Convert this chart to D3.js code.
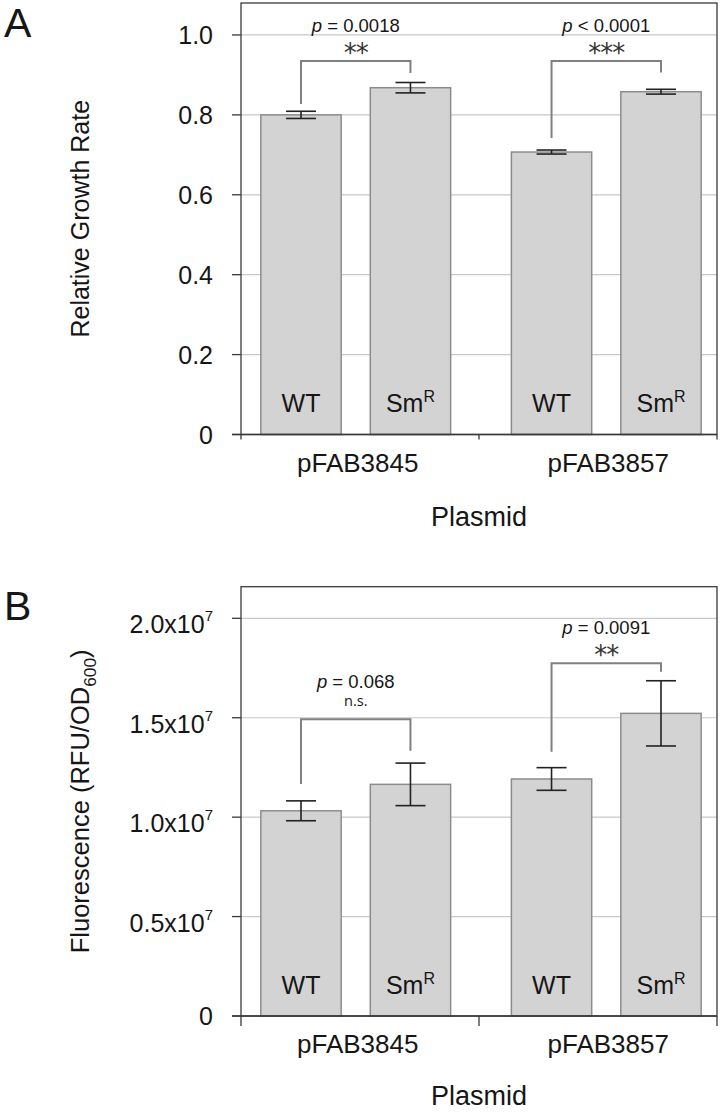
<!DOCTYPE html>
<html>
<head>
<meta charset="utf-8">
<script src="https://cdn.jsdelivr.net/npm/d3@7"></script>
<style>
body { margin: 0; background: #fff; }
svg { display: block; font-family: "Liberation Sans", Arial, sans-serif; }
</style>
</head>
<body>
<svg id="fig" width="724" height="1114"></svg>
<script>
const plasmids = ["pFAB3845", "pFAB3857"];
const strains = ["WT", "SmR"];

// panel A - relative growth rate, order: 3845 WT, 3845 SmR, 3857 WT, 3857 SmR
const growthMean = [0.800, 0.868, 0.707, 0.858];
const growthErr = [0.009, 0.013, 0.005, 0.006];
const growthTicks = [0, 0.2, 0.4, 0.6, 0.8, 1.0];
const growthTickLabels = ["0", "0.2", "0.4", "0.6", "0.8", "1.0"];
const growthP = ["= 0.0018", "< 0.0001"];
const growthStars = ["**", "***"];
const growthBracket = [0.935, 0.935];
const growthLegs = [[0.827, 0.905], [0.742, 0.906]];

// panel B - fluorescence
const fluorMean = [1.032e7, 1.165e7, 1.192e7, 1.522e7];
const fluorErr = [0.050e7, 0.107e7, 0.057e7, 0.164e7];
const fluorTicks = [0, 0.5e7, 1.0e7, 1.5e7, 2.0e7];
const fluorTickLabels = ["0", "0.5x10", "1.0x10", "1.5x10", "2.0x10"];
const fluorTickExp = ["", "7", "7", "7", "7"];
const fluorP = ["= 0.068", "= 0.0091"];
const fluorStars = ["n.s.", "**"];
const fluorBracket = [1.492e7, 1.774e7];
const fluorLegs = [[1.167e7, 1.334e7], [1.329e7, 1.731e7]];

const svg = d3.select("#fig");
const left = 241, right = 717;
const ink = "#161616";

// groups, then strains inside each group
const xGroup = d3.scaleBand().domain(plasmids).range([left, right]).paddingInner(0.1);
const xStrain = d3.scaleBand().domain(strains)
  .range([2, xGroup.bandwidth() + 2]).paddingInner(0.266).paddingOuter(0.163);
const xAxisBand = d3.scaleBand().domain(plasmids).range([left, right]);

function drawPanel(o) {
  const g = svg.append("g");
  const y = d3.scaleLinear().domain([0, o.yMax]).range([o.y0, o.yTop]);

  const rows = [];
  plasmids.forEach((p, i) => strains.forEach((s, j) => {
    const k = i * 2 + j;
    rows.push({p: p, s: s, mean: o.mean[k], err: o.err[k]});
  }));
  const bx = d => xGroup(d.p) + xStrain(d.s);
  const cx = d => bx(d) + xStrain.bandwidth() / 2;

  // gridlines
  g.selectAll(".grid").data(o.ticks.filter(t => t > 0)).enter().append("line")
    .attr("x1", left).attr("x2", right)
    .attr("y1", d => y(d)).attr("y2", d => y(d))
    .attr("stroke", "#c9c9c9").attr("stroke-width", 1.2);

  // bars
  g.selectAll(".bar").data(rows).enter().append("rect")
    .attr("x", bx).attr("width", xStrain.bandwidth())
    .attr("y", d => y(d.mean)).attr("height", d => y(0) - y(d.mean))
    .attr("fill", "#d3d3d3").attr("stroke", "#8c8c8c").attr("stroke-width", 1.5);

  // labels inside bars
  const bl = g.selectAll(".blab").data(rows).enter().append("text")
    .attr("x", cx).attr("y", y(0) - o.barLabOff)
    .attr("text-anchor", "middle").attr("font-size", 25).attr("fill", ink);
  bl.each(function (d) {
    const t = d3.select(this);
    if (d.s === "SmR") {
      t.append("tspan").text("Sm");
      t.append("tspan").attr("font-size", 16).attr("dy", -10).text("R");
    } else {
      t.text(d.s);
    }
  });

  // error bars
  const eb = g.selectAll(".err").data(rows).enter().append("g")
    .attr("stroke", "#222").attr("stroke-width", 1.6);
  eb.append("line")
    .attr("x1", cx).attr("x2", cx)
    .attr("y1", d => y(d.mean - d.err)).attr("y2", d => y(d.mean + d.err));
  [1, -1].forEach(sg => {
    eb.append("line")
      .attr("x1", d => cx(d) - 15).attr("x2", d => cx(d) + 15)
      .attr("y1", d => y(d.mean + sg * d.err)).attr("y2", d => y(d.mean + sg * d.err));
  });

  // significance brackets
  plasmids.forEach((p, i) => {
    const xa = xGroup(p) + xStrain("WT") + xStrain.bandwidth() / 2;
    const xb = xGroup(p) + xStrain("SmR") + xStrain.bandwidth() / 2;
    const yt = y(o.bracket[i]);
    const ns = o.stars[i] === "n.s.";
    g.append("path")
      .attr("d", `M${xa},${y(o.legs[i][0])}V${yt}H${xb}V${y(o.legs[i][1])}`)
      .attr("fill", "none").attr("stroke", "#808080").attr("stroke-width", 2);
    const pt = g.append("text").attr("x", (xa + xb) / 2).attr("y", yt - (ns ? 31 : 29))
      .attr("text-anchor", "middle").attr("font-size", 18.5).attr("fill", ink);
    pt.append("tspan").attr("font-style", "italic").text("p");
    pt.append("tspan").text(" " + o.p[i]);
    if (ns) {
      g.append("text").attr("x", (xa + xb) / 2).attr("y", yt - 13)
        .attr("text-anchor", "middle").attr("font-size", 14.5)
        .attr("font-family", "'Open Sans', sans-serif").attr("fill", ink).text(o.stars[i]);
    } else {
      g.append("text").attr("x", (xa + xb) / 2).attr("y", yt + 1)
        .attr("text-anchor", "middle").attr("font-size", 26).attr("letter-spacing", -1)
        .attr("font-family", "'DejaVu Sans', sans-serif").attr("fill", "#333").text(o.stars[i]);
    }
  });

  // frame
  g.append("rect").attr("x", left).attr("y", o.yTop)
    .attr("width", right - left).attr("height", o.y0 - o.yTop)
    .attr("fill", "none").attr("stroke", "#3a3a3a").attr("stroke-width", 1.3);

  // y ticks + labels
  g.selectAll(".yt").data(o.ticks).enter().append("line")
    .attr("x1", 232).attr("x2", left).attr("y1", d => y(d)).attr("y2", d => y(d))
    .attr("stroke", "#3a3a3a").attr("stroke-width", 1.3);
  const yl = g.selectAll(".yl").data(o.ticks).enter().append("text")
    .attr("x", 213).attr("y", d => y(d) + o.tickDy)
    .attr("text-anchor", "end").attr("font-size", 25).attr("fill", ink);
  yl.each(function (d, i) {
    const t = d3.select(this);
    t.append("tspan").text(o.tickLabels[i]);
    if (o.tickExp && o.tickExp[i]) {
      t.append("tspan").attr("font-size", 15).attr("dy", -12).text(o.tickExp[i]);
    }
  });
  if (o.tickExp) yl.filter((d, i) => !o.tickExp[i]).attr("y", d => y(d) + 9);

  // x axis
  g.append("line").attr("x1", 232).attr("x2", right).attr("y1", y(0)).attr("y2", y(0))
    .attr("stroke", "#3a3a3a").attr("stroke-width", 1.3);
  const xt = [xAxisBand(plasmids[0]), xAxisBand(plasmids[1]), right];
  g.selectAll(".xt").data(xt).enter().append("line")
    .attr("x1", d => d).attr("x2", d => d).attr("y1", y(0)).attr("y2", y(0) + o.tickLen)
    .attr("stroke", "#3a3a3a").attr("stroke-width", 1.3);
  g.selectAll(".xl").data(plasmids).enter().append("text")
    .attr("x", d => xGroup(d) + xGroup.bandwidth() / 2 + 4).attr("y", y(0) + 37)
    .attr("text-anchor", "middle").attr("font-size", 26).attr("fill", ink).text(d => d);
  g.append("text").attr("x", (left + right) / 2).attr("y", y(0) + o.xTitleOff)
    .attr("text-anchor", "middle").attr("font-size", 27).attr("fill", ink).text("Plasmid");

  // y title
  const yt = g.append("text")
    .attr("transform", `translate(89,${(o.y0 + o.yTop) / 2}) rotate(-90)`)
    .attr("text-anchor", "middle").attr("font-size", o.titleSize).attr("fill", ink);
  o.yTitle.forEach(part => {
    const ts = yt.append("tspan").text(part.t);
    if (part.sub) ts.attr("font-size", o.titleSize * 0.68).attr("dy", 7);
    if (part.after) ts.attr("dy", -7);
  });

  // panel letter
  g.append("text").attr("x", 4).attr("y", o.letterY)
    .attr("font-size", 41).attr("fill", ink).text(o.letter);
}

drawPanel({
  letter: "A", letterY: 37, y0: 434.5, yTop: 3, yMax: 1.080,
  mean: growthMean, err: growthErr, ticks: growthTicks, tickLabels: growthTickLabels,
  tickDy: 9, p: growthP, stars: growthStars, bracket: growthBracket, legs: growthLegs,
  barLabOff: 23, tickLen: 5, xTitleOff: 91, titleSize: 25,
  yTitle: [{t: "Relative Growth Rate"}]
});

drawPanel({
  letter: "B", letterY: 620, y0: 1016, yTop: 586.7, yMax: 2.159e7,
  mean: fluorMean, err: fluorErr, ticks: fluorTicks, tickLabels: fluorTickLabels,
  tickExp: fluorTickExp, tickDy: 15, p: fluorP, stars: fluorStars,
  bracket: fluorBracket, legs: fluorLegs,
  barLabOff: 22, tickLen: 10, xTitleOff: 89, titleSize: 25.5,
  yTitle: [{t: "Fluorescence (RFU/OD"}, {t: "600", sub: true}, {t: ")", after: true}]
});
</script>
</body>
</html>
